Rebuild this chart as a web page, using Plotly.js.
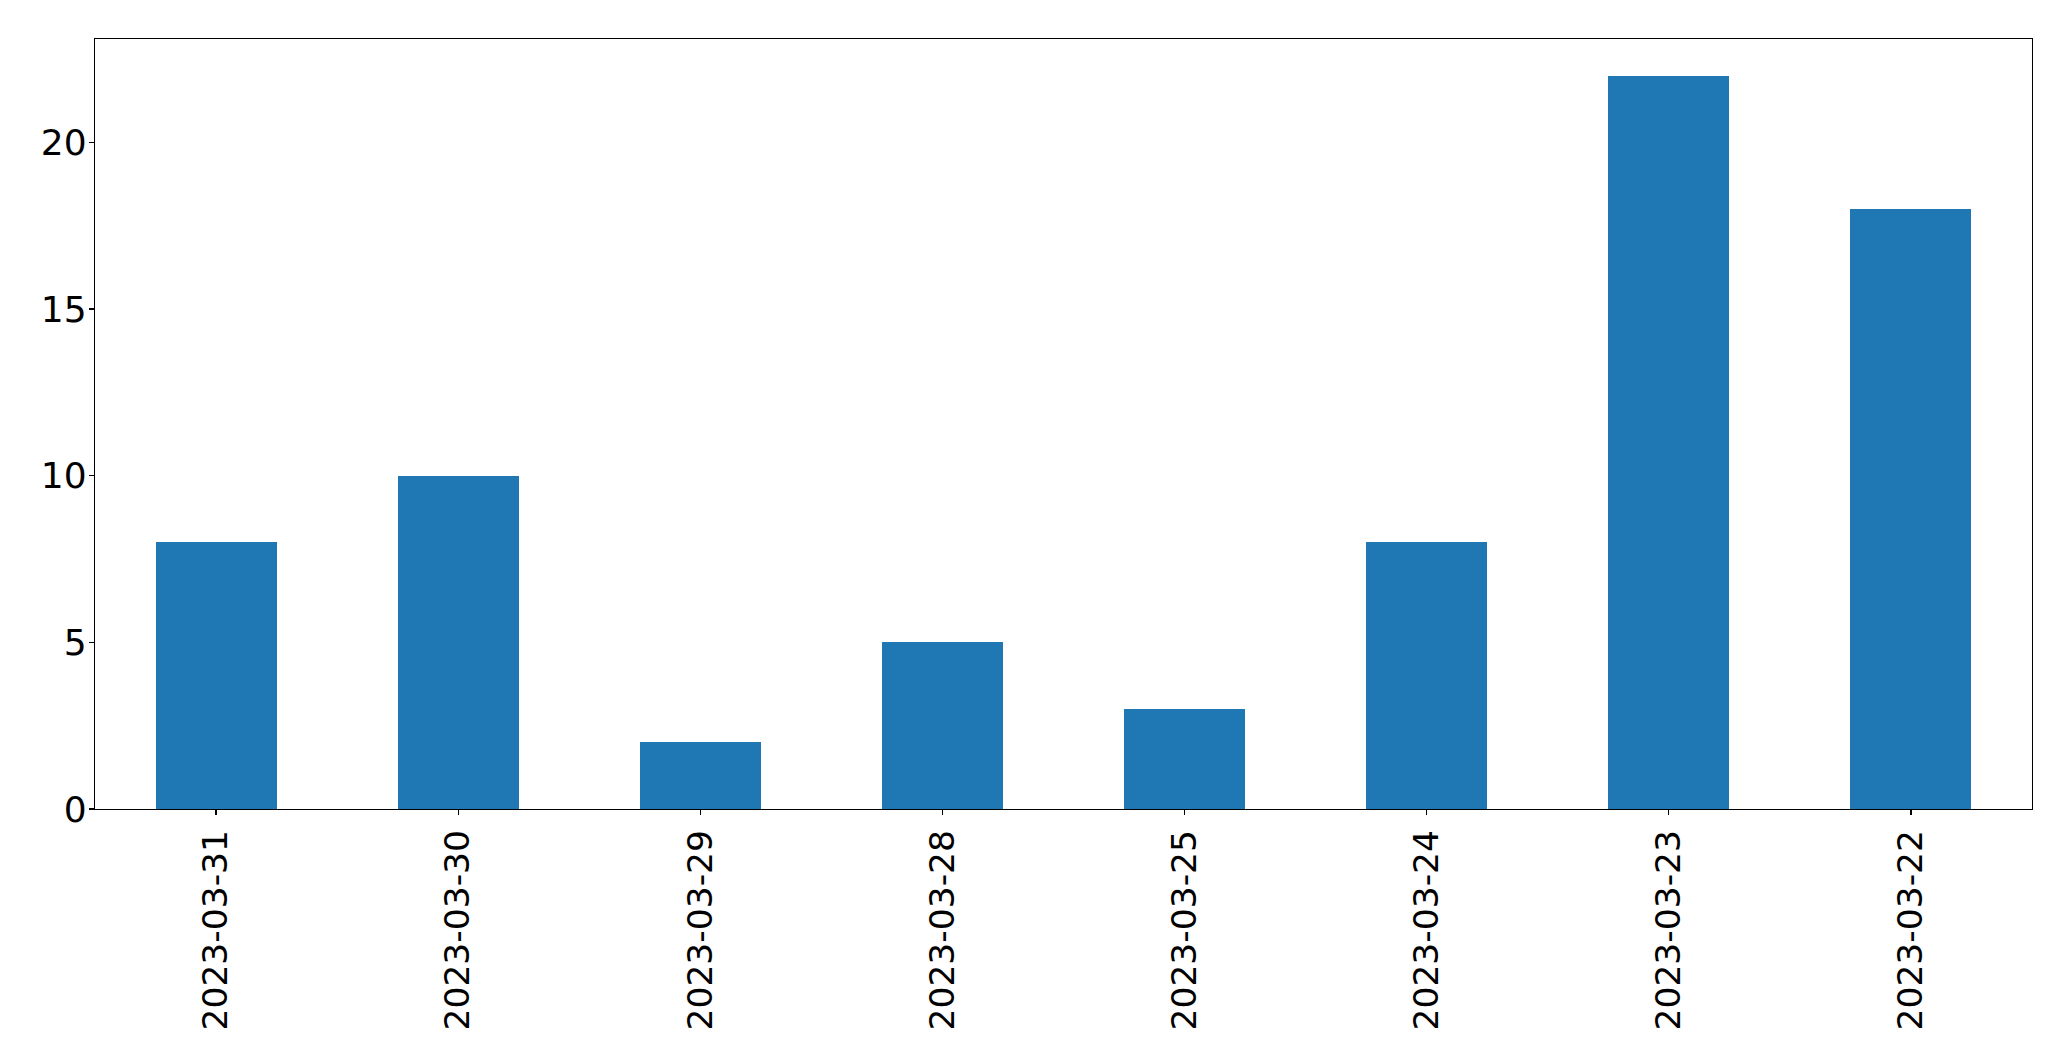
<!DOCTYPE html>
<html>
<head>
<meta charset="utf-8">
<script src="https://cdn.plot.ly/plotly-3.0.1.min.js"></script>
<style>html,body{margin:0;padding:0;background:#fff;}#chart{width:2071px;height:1061px;}</style>
</head>
<body>
<div id="chart"></div>
<script>
const categories = ["2023-03-31","2023-03-30","2023-03-29","2023-03-28","2023-03-25","2023-03-24","2023-03-23","2023-03-22"];
const counts = [8, 10, 2, 5, 3, 8, 22, 18];
const yTicks = [0, 5, 10, 15, 20];

const trace = {
  type: 'bar',
  x: categories,
  y: counts,
  width: 0.5,
  marker: {color: '#1f77b4', line: {width: 0}},
  hoverinfo: 'x+y'
};

const layout = {
  width: 2071, height: 1061,
  margin: {l: 95, r: 39, t: 39, b: 252, pad: 0},
  paper_bgcolor: '#fff', plot_bgcolor: '#fff',
  font: {family: 'DejaVu Sans, sans-serif', size: 34, color: '#000'},
  showlegend: false,
  bargap: 0,
  xaxis: {
    type: 'category',
    range: [-0.5, 7.5],
    showline: true, mirror: true, linecolor: '#000', linewidth: 1.2,
    showgrid: false, zeroline: false,
    ticks: 'outside', ticklen: 5, tickwidth: 1.2, tickcolor: '#000',
    tickangle: -90,
    tickfont: {size: 34.5},
    ticklabelstandoff: 1
  },
  yaxis: {
    range: [0, 23.1],
    tickvals: yTicks,
    ticktext: yTicks.map(String),
    showline: true, mirror: true, linecolor: '#000', linewidth: 1.2,
    showgrid: false, zeroline: false,
    ticks: 'outside', ticklen: 5, tickwidth: 1.2, tickcolor: '#000',
    tickfont: {size: 36},
    ticklabelstandoff: -5
  }
};

Plotly.newPlot('chart', [trace], layout, {displayModeBar: false, staticPlot: true});
</script>
</body>
</html>
